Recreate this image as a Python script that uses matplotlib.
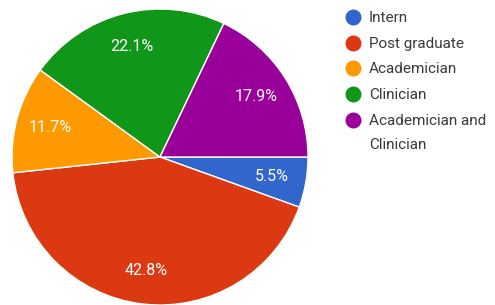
import matplotlib
matplotlib.use("Agg")
import matplotlib.pyplot as plt
from matplotlib.lines import Line2D

categories = ["Intern", "Post graduate", "Academician", "Clinician", "Academician and\nClinician"]
values = [5.5, 42.8, 11.7, 22.1, 17.9]
colors = ["#3366CC", "#DC3912", "#FF9900", "#109618", "#990099"]

plt.rcParams['font.family'] = ['Roboto', 'DejaVu Sans']

W, H = 495, 305
fig = plt.figure(figsize=(W / 100, H / 100), dpi=100)
cx, cy, r = 160, 157, 148
ax = fig.add_axes([(cx - r) / W, (H - cy - r) / H, 2 * r / W, 2 * r / H])
wedges, texts, autotexts = ax.pie(
    values, colors=colors, startangle=0, counterclock=False,
    autopct='%1.1f%%', pctdistance=0.77, radius=1.0,
    wedgeprops=dict(edgecolor='white', linewidth=1.0),
    textprops=dict(color='white', fontsize=11.5))
ax.set_xlim(-1, 1)
ax.set_ylim(-1, 1)
ax.set_aspect('equal')
ax.axis('off')

# legend
y0 = 17
dy = 25.7
for i, (lab, c) in enumerate(zip(categories, colors)):
    y = y0 + i * dy
    fig.add_artist(Line2D([353 / W], [1 - y / H], marker='o', markersize=10.5,
                          color=c, linestyle='none', transform=fig.transFigure))
    fig.text(369 / W, 1 - (y - 6) / H, lab, fontsize=11, color='#3a3a3a',
             va='top', ha='left', linespacing=1.95)

fig.savefig("out.png", dpi=100)
